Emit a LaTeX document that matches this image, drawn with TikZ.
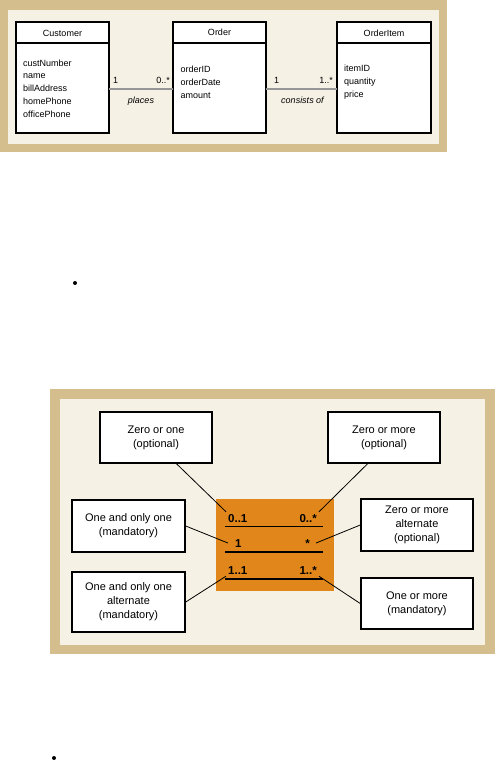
\documentclass[tikz,border=0pt]{standalone}
\usepackage{fontspec}
\setmainfont{Liberation Sans}
\usepackage{tikz}
\definecolor{paneltan}{RGB}{212,190,142}
\definecolor{panelcream}{RGB}{245,241,229}
\definecolor{cardorange}{RGB}{224,134,27}
\definecolor{assocgray}{RGB}{150,150,150}

\begin{document}
\begin{tikzpicture}[x=1pt, y=-1pt,
  classbox/.style={draw, line width=1.2pt, fill=white, minimum width=93pt, minimum height=111pt, inner sep=0pt, outer sep=0pt},
  classname/.style={inner sep=0pt, font=\fontsize{9}{11}\selectfont},
  attrlist/.style={anchor=north west, align=left, inner sep=0pt, font=\fontsize{9}{12.7}\selectfont},
  assoc/.style={draw=assocgray, line width=1.1pt},
  assoclabel/.style={inner sep=0pt, font=\fontsize{9}{11}\selectfont},
  notebox/.style={draw, line width=1.5pt, fill=white, align=center, minimum width=112pt, minimum height=51pt, inner sep=0pt, font=\fontsize{11}{14}\selectfont},
  mult/.style={inner sep=2pt, font=\fontsize{11.5}{13}\selectfont\bfseries},
  pointer/.style={line width=0.8pt},
]
  \useasboundingbox (0,0) rectangle (495,761);

  % class diagram
  \fill[paneltan] (0,0) rectangle (447,152);
  \fill[panelcream] (8,10) rectangle (439,144);
  \node[classbox] (customer) at (62.5,77.5) {};
  \node[classbox] (order) at (219.5,77.5) {};
  \node[classbox, minimum width=94pt] (orderitem) at (384,77.5) {};
  \draw[line width=1.2pt] (customer.north west) ++(0,21) -- ++(93,0);
  \draw[line width=1.2pt] (order.north west) ++(0,21) -- ++(93,0);
  \draw[line width=1.2pt] (orderitem.north west) ++(0,21) -- ++(94,0);
  \node[classname] (customername) at (62.5,33) {Customer};
  \node[classname] (ordername) at (219.5,32) {Order};
  \node[classname] (orderitemname) at (384,33) {OrderItem};
  \node[attrlist] (customerattr) at (23,59.5) {custNumber\\name\\billAddress\\homePhone\\officePhone};
  \node[attrlist] (orderattr) at (180.5,66) {orderID\\orderDate\\amount};
  \node[attrlist] (orderitemattr) at (344,65) {itemID\\quantity\\price};
  \draw[assoc] (customer.east |- 0,89) -- (order.west |- 0,89);
  \draw[assoc] (order.east |- 0,89) -- (orderitem.west |- 0,89);
  \node[assoclabel, anchor=base west] (placesfrom) at (113,83) {1};
  \node[assoclabel, anchor=base east] (placesto) at (170,83) {0..*};
  \node[assoclabel, anchor=base, font=\fontsize{9}{11}\selectfont\itshape] (places) at (141,103) {places};
  \node[assoclabel, anchor=base west] (consistsfrom) at (274,83) {1};
  \node[assoclabel, anchor=base east] (consiststo) at (333,83) {1..*};
  \node[assoclabel, anchor=base, font=\fontsize{9}{11}\selectfont\itshape] (consists) at (302.5,103) {consists of};

  \fill (75,283) circle (2pt);

  % multiplicity notation
  \fill[paneltan] (50,389) rectangle (495,654);
  \fill[panelcream] (60,399) rectangle (485,645);
  \node[fill=cardorange, minimum width=118pt, minimum height=92pt, inner sep=0pt] (card) at (275,545) {};
  \draw[line width=0.8pt] (225,526) -- (323,526);
  \draw[line width=1.8pt] (225,552) -- (323,552);
  \draw[line width=1.8pt] (225,579) -- (323,579);
  \node[mult, anchor=base west] (zeroone) at (226,522) {0..1};
  \node[mult, anchor=base east] (zeromany) at (319,522) {0..*};
  \node[mult, anchor=base west, inner xsep=7pt] (exactone) at (228,547) {1};
  \node[mult, anchor=base east, inner xsep=6pt] (many) at (316,547) {*};
  \node[mult, anchor=base west] (oneone) at (226,574) {1..1};
  \node[mult, anchor=base east] (onemany) at (319,574) {1..*};

  \node[notebox] (zeroonenote) at (156,437.5) {Zero or one\\(optional)};
  \node[notebox] (zeromanynote) at (384,437.5) {Zero or more\\(optional)};
  \node[notebox, minimum width=113pt, minimum height=52pt] (exactonenote) at (128.5,526) {One and only one\\(mandatory)};
  \node[notebox, minimum width=113pt, minimum height=60pt] (oneonenote) at (128.5,602) {One and only one\\alternate\\(mandatory)};
  \node[notebox, minimum height=52pt] (manynote) at (417,525) {Zero or more\\alternate\\(optional)};
  \node[notebox] (onemanynote) at (417,603.5) {One or more\\(mandatory)};

  \draw[pointer] (zeroonenote.-52) -- (zeroone.north west);
  \draw[pointer] (zeromanynote.-122) -- (zeromany.north east);
  \draw[pointer] (exactonenote.east) -- (exactone.west);
  \draw[pointer] (manynote.west) -- (many.east);
  \draw[pointer] (oneonenote.east) -- (oneone.south west);
  \draw[pointer] (onemanynote.west) -- (onemany.south east);

  \fill (54,758) circle (2pt);
\end{tikzpicture}
\end{document}
